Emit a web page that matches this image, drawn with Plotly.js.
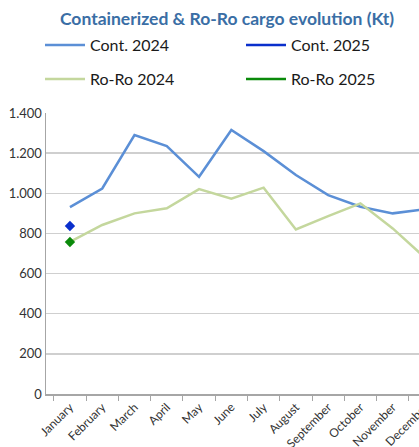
<!DOCTYPE html>
<html>
<head>
<meta charset="utf-8">
<script src="https://cdn.plot.ly/plotly-3.0.1.min.js"></script>
<style>
html,body{margin:0;padding:0;overflow:hidden;background:#fff;}
#chart{width:426px;height:447px;}
</style>
</head>
<body>
<div id="chart"></div>
<script>
const months = ["January","February","March","April","May","June","July","August","September","October","November","December"];
const cont2024 = [931,1024,1290,1235,1082,1315,1210,1091,991,933,900,920];
const roro2024 = [758,842,900,925,1021,973,1028,820,886,950,825,679];
const cont2025 = [837];
const roro2025 = [757];
const months2025 = ["January"];

const FONT = "Lato, 'Open Sans', sans-serif";
const C_CONT24 = "#5b8fd6", C_CONT25 = "#0a2fcc", C_RORO24 = "#c4d79d", C_RORO25 = "#0a8a0a";

const traces = [
  {x: months, y: cont2024, name: "Cont. 2024", type: "scatter", mode: "lines",
   line: {color: C_CONT24, width: 2.5}, legend: "legend"},
  {x: [null], y: [null], name: "Cont. 2025", type: "scatter", mode: "lines",
   line: {color: C_CONT25, width: 2.5}, legend: "legend2"},
  {x: months, y: roro2024, name: "Ro-Ro 2024", type: "scatter", mode: "lines",
   line: {color: C_RORO24, width: 2.5}, legend: "legend3"},
  {x: [null], y: [null], name: "Ro-Ro 2025", type: "scatter", mode: "lines",
   line: {color: C_RORO25, width: 2.5}, legend: "legend4"},
  {x: months2025, y: cont2025, name: "Cont. 2025", type: "scatter", mode: "lines+markers", showlegend: false,
   line: {color: C_CONT25, width: 2.5}, marker: {symbol: "diamond", size: 8, color: C_CONT25}},
  {x: months2025, y: roro2025, name: "Ro-Ro 2025", type: "scatter", mode: "lines+markers", showlegend: false,
   line: {color: C_RORO25, width: 2.5}, marker: {symbol: "diamond", size: 8, color: C_RORO25}}
];

function leg(px, py) {
  return {
    orientation: "v", xref: "container", yref: "container",
    x: px / 426, y: 1 - py / 447, xanchor: "left", yanchor: "middle",
    font: {family: FONT, size: 16, color: "#1a1a1a"}, bgcolor: "rgba(0,0,0,0)",
    itemwidth: 40, itemclick: false, itemdoubleclick: false
  };
}

const layout = {
  width: 426, height: 447,
  margin: {l: 46, r: 1, t: 113, b: 53, autoexpand: false},
  paper_bgcolor: "#fff", plot_bgcolor: "#fff",
  separators: ",.",
  title: {text: "<b>Containerized & Ro-Ro cargo evolution (Kt)</b>", xref: "container", yref: "container",
          x: 227/426, xanchor: "center", y: 1 - 19/447, yanchor: "middle",
          font: {family: FONT, size: 17.5, color: "#3a6ea5"}},
  showlegend: true,
  legend: leg(40, 45),
  legend2: leg(241, 45),
  legend3: leg(40, 79),
  legend4: leg(241, 79),
  xaxis: {type: "category", showline: true, linecolor: "#a6a6a6", linewidth: 1.5, automargin: false,
          ticks: "outside", tickson: "boundaries", ticklen: 5, tickcolor: "#a6a6a6",
          showgrid: false, tickangle: -45, tickfont: {family: FONT, size: 12, color: "#333"},
          fixedrange: true},
  yaxis: {range: [0, 1400], dtick: 200, tickformat: ",d", showline: true, linecolor: "#a6a6a6", linewidth: 1.5,
          automargin: false,
          showgrid: true, gridcolor: "#cfcfcf", gridwidth: 1.5, zeroline: false, ticks: "",
          tickfont: {family: FONT, size: 13, color: "#333"}, fixedrange: true}
};

Plotly.newPlot("chart", traces, layout, {displayModeBar: false, staticPlot: true});
</script>
</body>
</html>
